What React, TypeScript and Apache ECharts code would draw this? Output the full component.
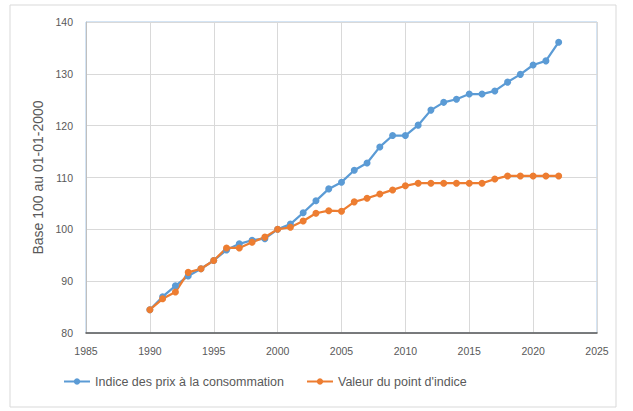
import { useEffect, useRef } from "react";
import * as echarts from "echarts";

const years = [
  1990, 1991, 1992, 1993, 1994, 1995, 1996, 1997, 1998, 1999, 2000, 2001, 2002,
  2003, 2004, 2005, 2006, 2007, 2008, 2009, 2010, 2011, 2012, 2013, 2014, 2015,
  2016, 2017, 2018, 2019, 2020, 2021, 2022,
];

const cpi = [
  84.5, 87.0, 89.1, 91.0, 92.4, 94.0, 96.0, 97.2, 97.9, 98.2, 100.0, 101.0,
  103.2, 105.5, 107.8, 109.1, 111.4, 112.8, 115.9, 118.1, 118.1, 120.1, 123.0,
  124.5, 125.1, 126.1, 126.1, 126.7, 128.4, 129.9, 131.7, 132.5, 136.1,
];

const pointIndice = [
  84.5, 86.6, 87.9, 91.7, 92.4, 94.0, 96.4, 96.4, 97.5, 98.5, 100.0, 100.4,
  101.6, 103.1, 103.6, 103.5, 105.3, 106.0, 106.8, 107.6, 108.4, 108.9, 108.9,
  108.9, 108.9, 108.9, 108.9, 109.7, 110.3, 110.3, 110.3, 110.3, 110.3,
];

const seriesNames = ["Indice des prix à la consommation", "Valeur du point d'indice"];
const yTitle = "Base 100 au 01-01-2000";

const FONT = "'Liberation Sans', Arial, sans-serif";
const TEXT = "#595959";

export default function App() {
  const ref = useRef<HTMLDivElement>(null);

  useEffect(() => {
    if (!ref.current) return;
    const chart = echarts.init(ref.current, null, { renderer: "svg" });
    chart.setOption({
      animation: false,
      backgroundColor: "#fff",
      textStyle: { fontFamily: FONT },
      graphic: [
        {
          type: "rect",
          shape: { x: 10, y: 5, width: 606, height: 402 },
          style: { fill: "none", stroke: "#d9d9d9", lineWidth: 1 },
          z: -1,
        },
      ],
      grid: {
        left: 86,
        top: 22,
        right: 36,
        bottom: 78,
        show: true,
        borderColor: "#a9c8e8",
        borderWidth: 1,
      },
      legend: {
        bottom: 18,
        left: 58,
        itemWidth: 26,
        itemHeight: 8,
        itemGap: 22,
        textStyle: { color: TEXT, fontSize: 12.5, fontFamily: FONT },
        data: seriesNames,
      },
      xAxis: {
        type: "value",
        min: 1985,
        max: 2025,
        interval: 5,
        axisLine: { lineStyle: { color: "#595959", width: 1.5 } },
        axisTick: { show: false },
        axisLabel: {
          color: TEXT,
          fontSize: 10.5,
          margin: 12,
          formatter: (v: number) => String(v),
        },
        splitLine: { lineStyle: { color: "#d9d9d9" } },
      },
      yAxis: {
        type: "value",
        min: 80,
        max: 140,
        interval: 10,
        name: yTitle,
        nameLocation: "middle",
        nameGap: 40,
        nameTextStyle: { color: TEXT, fontSize: 14 },
        axisLine: { show: true, lineStyle: { color: "#bfbfbf" } },
        axisTick: { show: false },
        axisLabel: { color: TEXT, fontSize: 10.5, margin: 13 },
        splitLine: { lineStyle: { color: "#d9d9d9" } },
      },
      series: [
        {
          name: seriesNames[0],
          type: "line",
          data: years.map((y, i) => [y, cpi[i]]),
          symbol: "circle",
          symbolSize: 7,
          color: "#5b9bd5",
          lineStyle: { width: 2.25 },
        },
        {
          name: seriesNames[1],
          type: "line",
          data: years.map((y, i) => [y, pointIndice[i]]),
          symbol: "circle",
          symbolSize: 7,
          color: "#ed7d31",
          lineStyle: { width: 2.25 },
        },
      ],
    });
    return () => chart.dispose();
  }, []);

  return (
    <div
      ref={ref}
      style={{ position: "absolute", left: 0, top: 0, width: 633, height: 411 }}
    />
  );
}
